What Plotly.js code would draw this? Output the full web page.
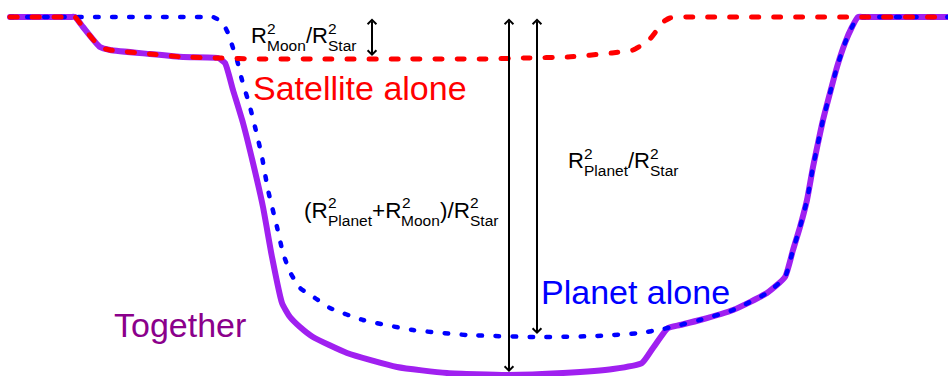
<!DOCTYPE html>
<html>
<head>
<meta charset="utf-8">
<script src="https://cdn.plot.ly/plotly-3.0.1.min.js"></script>
<style>
  html, body { margin: 0; padding: 0; background: #fff; }
  #chart { width: 948px; height: 376px; }
  .js-line { stroke-linecap: round; stroke-linejoin: round; }
</style>
</head>
<body>
<div id="chart"></div>
<script>
// ---- Data (time in arbitrary units, transit depth in arbitrary units; 0 = out of transit) ----
const togetherTime  = [10, 70, 75, 83, 100, 110, 150, 183, 218, 225, 233, 243, 253, 263, 272, 282, 290, 300, 313, 347, 397, 447, 507, 563, 613, 642, 653, 668, 680, 700, 733, 767, 785, 793, 800, 807, 813, 818, 823, 830, 837, 845, 852, 858, 864, 948];
const togetherDepth = [0, 0, 0, 10, 30, 33, 37, 40, 41, 46, 73, 106, 146, 190, 240, 286, 300, 310, 320, 336, 350, 356, 358, 356, 352, 346, 331, 311, 308, 303, 293, 276, 260, 233, 210, 183, 150, 126, 103, 76, 50, 26, 10, 0, 0, 0];

const planetTime  = [10, 207, 213, 222, 228, 233, 237, 242, 250, 257, 262, 268, 277, 283, 290, 300, 315, 330, 363, 413, 467, 537, 597, 640, 663, 680, 700, 733, 767, 785, 793, 800, 807, 813, 818, 823, 830, 837, 845, 852, 858, 864, 948];
const planetDepth = [0, 0, 0, 5, 16, 31, 43, 63, 90, 118, 140, 173, 210, 236, 255, 271, 281, 291, 303, 313, 318, 320, 319, 316, 312, 308, 303, 293, 276, 260, 233, 210, 183, 150, 126, 103, 76, 50, 26, 10, 0, 0, 0];

const satelliteTime  = [10, 70, 75, 83, 100, 110, 150, 183, 218, 260, 320, 400, 480, 525, 568, 612, 633, 642, 650, 657, 663, 670, 680, 686, 948];
const satelliteDepth = [0, 0, 0, 10, 30, 33, 37, 40, 41, 42, 42, 42, 42, 41, 40, 36, 33, 28, 22, 13, 5, 1, 0, 0, 0];

const curveNames = ['Together', 'Planet alone', 'Satellite alone'];

// ---- Styling / layout ----
const W = 948, H = 376;
const FONT = 'Liberation Sans, Arial, Helvetica, sans-serif';
const CANVAS_FONT = '"Liberation Sans", Arial, sans-serif';

const traces = [
  { x: togetherTime, y: togetherDepth, name: curveNames[0], mode: 'lines',
    line: { color: '#a020f0', width: 6, shape: 'spline', smoothing: 0.5 } },
  { x: planetTime, y: planetDepth, name: curveNames[1], mode: 'lines',
    line: { color: '#0000ff', width: 4.5, dash: '3.5px,13.5px', shape: 'spline', smoothing: 0.5 } },
  { x: satelliteTime, y: satelliteDepth, name: curveNames[2], mode: 'lines',
    line: { color: '#ff0000', width: 5, dash: '7px,15px', shape: 'spline', smoothing: 0.5 } }
];

// text measuring for stacked super/subscripts
const cv = document.createElement('canvas');
const ctx = cv.getContext('2d');
function measure(t, size) { ctx.font = size + 'px ' + CANVAS_FONT; return ctx.measureText(t).width; }

const BASE_K = 0.3465; // baseline offset below text-box centre, in em
function textAnno(text, leftPx, baselinePx, size, color) {
  const cy = baselinePx - BASE_K * size;
  return { xref: 'paper', yref: 'paper', x: leftPx / W, y: 1 - cy / H,
           xanchor: 'left', yanchor: 'middle', text: text, showarrow: false,
           borderpad: 0, font: { family: FONT, size: size, color: color } };
}
function mathLabel(tokens, leftPx, baselinePx, mainSize, scriptSize, color) {
  const out = [];
  let x = leftPx;
  const supRaise = 0.43 * mainSize, subDrop = 0.34 * mainSize;
  tokens.forEach(tok => {
    if (typeof tok === 'string') {
      out.push(textAnno(tok, x, baselinePx, mainSize, color));
      x += measure(tok, mainSize);
    } else {
      out.push(textAnno(tok.sup, x + 0.5, baselinePx - supRaise, scriptSize, color));
      out.push(textAnno(tok.sub, x, baselinePx + subDrop, scriptSize, color));
      x += Math.max(measure(tok.sup, scriptSize), measure(tok.sub, scriptSize));
    }
  });
  return out;
}

const annotations = [];
annotations.push(...mathLabel(['R', {sup: '2', sub: 'Moon'}, '/', 'R', {sup: '2', sub: 'Star'}], 250, 43, 22, 15.5, '#000'));
annotations.push(...mathLabel(['R', {sup: '2', sub: 'Planet'}, '/', 'R', {sup: '2', sub: 'Star'}], 567, 168, 22, 15.5, '#000'));
annotations.push(...mathLabel(['(R', {sup: '2', sub: 'Planet'}, '+R', {sup: '2', sub: 'Moon'}, ')/R', {sup: '2', sub: 'Star'}], 303, 218, 22.5, 15.5, '#000'));

annotations.push(textAnno(curveNames[2], 252, 100, 34, '#ff0000'));
annotations.push(textAnno(curveNames[1], 540, 304, 34, '#0000ff'));
annotations.push(textAnno(curveNames[0], 113, 337, 34, '#8b008b'));

// depth arrows, derived from the data
function depthArrow(xPos, depth) {
  return { xref: 'x', yref: 'y', axref: 'x', ayref: 'y',
           x: xPos, y: depth, ax: xPos, ay: 0, text: '', showarrow: true,
           arrowside: 'end+start', arrowhead: 4, startarrowhead: 4,
           arrowsize: 0.85, startarrowsize: 0.85, arrowwidth: 2, arrowcolor: '#000',
           standoff: 3, startstandoff: 0 };
}
annotations.push(depthArrow(372, Math.max(...satelliteDepth)));
annotations.push(depthArrow(509, Math.max(...togetherDepth)));
annotations.push(depthArrow(537, Math.max(...planetDepth)));

const layout = {
  width: W, height: H,
  margin: { l: 0, r: 0, t: 0, b: 0 },
  paper_bgcolor: '#fff', plot_bgcolor: '#fff',
  showlegend: false,
  xaxis: { range: [0, 948], visible: false, fixedrange: true },
  yaxis: { range: [359, -17], visible: false, fixedrange: true },
  annotations: annotations
};

Plotly.newPlot('chart', traces, layout, { staticPlot: true, displayModeBar: false });
</script>
</body>
</html>
